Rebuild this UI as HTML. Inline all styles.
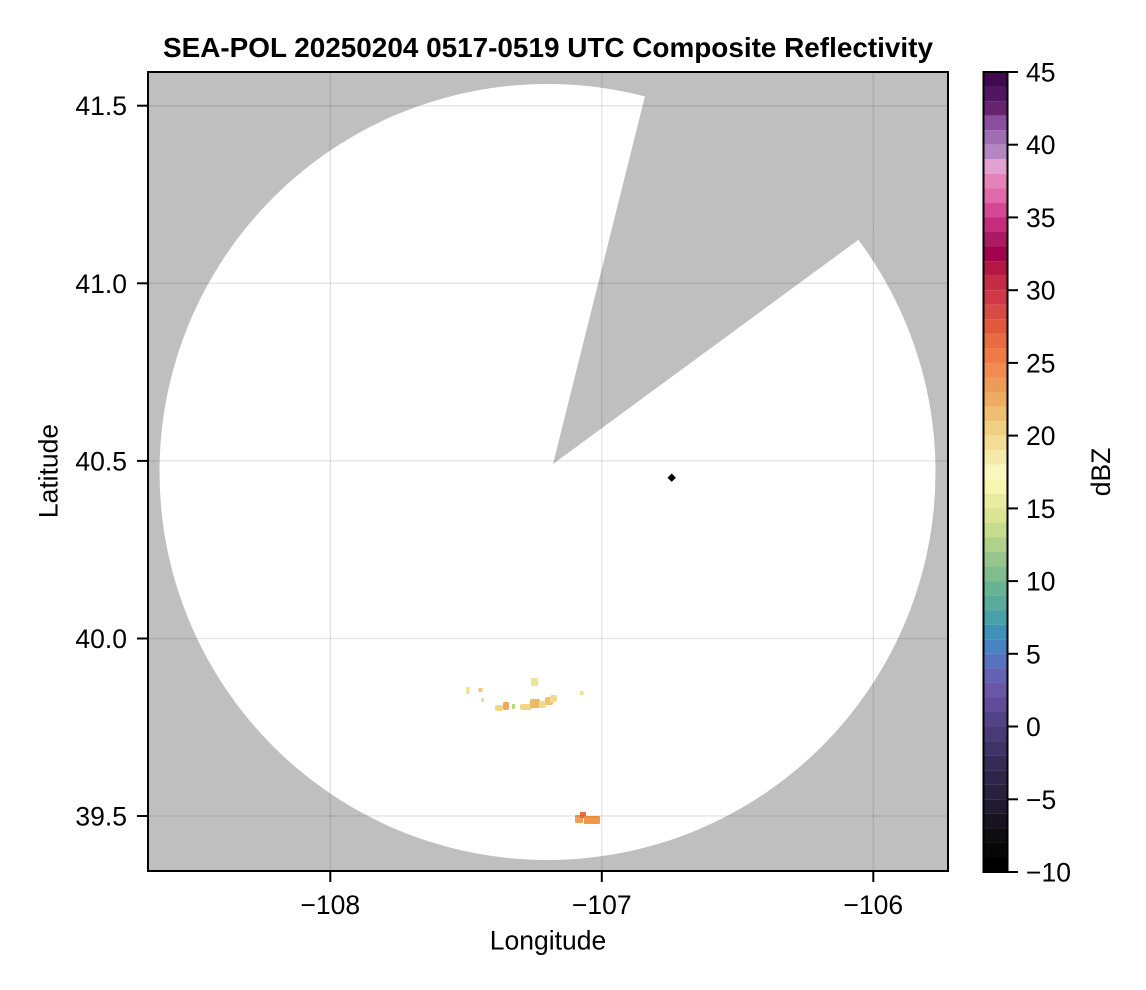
<!DOCTYPE html>
<html><head><meta charset="utf-8"><style>
html,body{margin:0;padding:0;background:#fff;}
svg{display:block;font-family:"Liberation Sans",Arial,sans-serif;}
</style></head><body>
<svg width="1146" height="990" viewBox="0 0 1146 990" xmlns="http://www.w3.org/2000/svg">
<defs><clipPath id="pa"><rect x="148" y="72" width="800" height="799"/></clipPath></defs>
<rect width="1146" height="990" fill="#fff"/>
<text x="548" y="57" font-size="27.9" font-weight="bold" text-anchor="middle">SEA-POL 20250204 0517-0519 UTC Composite Reflectivity</text>
<g clip-path="url(#pa)">
<rect x="148" y="72" width="800" height="799" fill="#bfbfbf"/>
<ellipse cx="547.5" cy="472" rx="388" ry="388" fill="#fff"/>
<polygon points="553,464 651,72 948,72 948,174" fill="#bfbfbf"/>
<g>
<rect x="466" y="687" width="3.5" height="7" fill="#eee38e"/>
<rect x="478.5" y="688" width="4" height="4" fill="#f0c870"/>
<rect x="481" y="698" width="3" height="4" fill="#e6e59a"/>
<rect x="495" y="705" width="8" height="6" rx="2" fill="#f0da86"/>
<rect x="503" y="702" width="6" height="8" rx="2" fill="#eea85a"/>
<rect x="512" y="704" width="3" height="5" fill="#b8d68a"/>
<rect x="520" y="704" width="12" height="6" rx="2" fill="#f2d585"/>
<rect x="530" y="699" width="10" height="9" rx="2" fill="#efb764"/>
<rect x="539" y="701" width="7" height="7" rx="2" fill="#f2dc8c"/>
<rect x="545" y="697" width="8" height="8" rx="2" fill="#f0c272"/>
<rect x="550" y="695" width="7" height="7" rx="2" fill="#f2dc8c"/>
<rect x="531" y="678" width="7" height="8" fill="#eae79a"/>
<rect x="580" y="691" width="3.5" height="4" fill="#f0e090"/>
<rect x="575" y="815" width="8" height="8" rx="1" fill="#f0a052"/>
<rect x="580" y="812" width="6" height="6" fill="#e9703c"/>
<rect x="584" y="816" width="16" height="8" rx="1" fill="#f09848"/>
</g>
<g stroke="#000" stroke-opacity="0.11" stroke-width="1.3">
<line x1="330.3" y1="72" x2="330.3" y2="871"/>
<line x1="601.8" y1="72" x2="601.8" y2="871"/>
<line x1="873.3" y1="72" x2="873.3" y2="871"/>
<line x1="148" y1="105.7" x2="948" y2="105.7"/>
<line x1="148" y1="283.3" x2="948" y2="283.3"/>
<line x1="148" y1="460.9" x2="948" y2="460.9"/>
<line x1="148" y1="638.5" x2="948" y2="638.5"/>
<line x1="148" y1="816" x2="948" y2="816"/>
</g>
<polygon points="671.7,473.5 675.9,477.7 671.7,481.9 667.5,477.7" fill="#000"/>
</g>
<rect x="148" y="72" width="800" height="799" fill="none" stroke="#000" stroke-width="2"/>
<g stroke="#000" stroke-width="2">
<line x1="330.3" y1="872" x2="330.3" y2="882"/>
<line x1="601.8" y1="872" x2="601.8" y2="882"/>
<line x1="873.3" y1="872" x2="873.3" y2="882"/>
<line x1="137" y1="105.7" x2="147" y2="105.7"/>
<line x1="137" y1="283.3" x2="147" y2="283.3"/>
<line x1="137" y1="460.9" x2="147" y2="460.9"/>
<line x1="137" y1="638.5" x2="147" y2="638.5"/>
<line x1="137" y1="816" x2="147" y2="816"/>
</g>
<g font-size="26.5" fill="#000">
<text x="330.3" y="914" text-anchor="middle">−108</text>
<text x="601.8" y="914" text-anchor="middle">−107</text>
<text x="873.3" y="914" text-anchor="middle">−106</text>
<text x="127" y="115.2" text-anchor="end">41.5</text>
<text x="127" y="292.8" text-anchor="end">41.0</text>
<text x="127" y="470.4" text-anchor="end">40.5</text>
<text x="127" y="648" text-anchor="end">40.0</text>
<text x="127" y="825.5" text-anchor="end">39.5</text>
<text x="548" y="949.5" text-anchor="middle">Longitude</text>
<text transform="translate(57.5,471) rotate(-90)" text-anchor="middle">Latitude</text>
<text transform="translate(1110,472) rotate(-90)" text-anchor="middle">dBZ</text>
</g>
<g>
<rect x="983.5" y="72" width="24" height="14.6" fill="#3f0a4e"/>
<rect x="983.5" y="86.545" width="24" height="14.6" fill="#511562"/>
<rect x="983.5" y="101.09" width="24" height="14.6" fill="#672571"/>
<rect x="983.5" y="115.636" width="24" height="14.6" fill="#8b4e9e"/>
<rect x="983.5" y="130.18" width="24" height="14.6" fill="#a06db2"/>
<rect x="983.5" y="144.727" width="24" height="14.6" fill="#b287c2"/>
<rect x="983.5" y="159.27" width="24" height="14.6" fill="#e2a1d0"/>
<rect x="983.5" y="173.818" width="24" height="14.6" fill="#e383b7"/>
<rect x="983.5" y="188.36" width="24" height="14.6" fill="#e06aa9"/>
<rect x="983.5" y="202.909" width="24" height="14.6" fill="#d54894"/>
<rect x="983.5" y="217.45" width="24" height="14.6" fill="#c62c7b"/>
<rect x="983.5" y="232" width="24" height="14.6" fill="#ac1a63"/>
<rect x="983.5" y="246.545" width="24" height="14.6" fill="#a1024b"/>
<rect x="983.5" y="261.09" width="24" height="14.6" fill="#b61645"/>
<rect x="983.5" y="275.636" width="24" height="14.6" fill="#c62b44"/>
<rect x="983.5" y="290.18" width="24" height="14.6" fill="#cf3947"/>
<rect x="983.5" y="304.727" width="24" height="14.6" fill="#da4a45"/>
<rect x="983.5" y="319.27" width="24" height="14.6" fill="#e3573c"/>
<rect x="983.5" y="333.818" width="24" height="14.6" fill="#e96b42"/>
<rect x="983.5" y="348.36" width="24" height="14.6" fill="#ee7b46"/>
<rect x="983.5" y="362.909" width="24" height="14.6" fill="#f08c51"/>
<rect x="983.5" y="377.45" width="24" height="14.6" fill="#ec9c58"/>
<rect x="983.5" y="392" width="24" height="14.6" fill="#edac62"/>
<rect x="983.5" y="406.545" width="24" height="14.6" fill="#f0be71"/>
<rect x="983.5" y="421.09" width="24" height="14.6" fill="#efcf80"/>
<rect x="983.5" y="435.636" width="24" height="14.6" fill="#f3dc93"/>
<rect x="983.5" y="450.18" width="24" height="14.6" fill="#f6eaab"/>
<rect x="983.5" y="464.727" width="24" height="14.6" fill="#fbf8bf"/>
<rect x="983.5" y="479.27" width="24" height="14.6" fill="#f8f5b0"/>
<rect x="983.5" y="493.818" width="24" height="14.6" fill="#e8eca0"/>
<rect x="983.5" y="508.36" width="24" height="14.6" fill="#dae493"/>
<rect x="983.5" y="522.909" width="24" height="14.6" fill="#c6db8b"/>
<rect x="983.5" y="537.45" width="24" height="14.6" fill="#aed28a"/>
<rect x="983.5" y="552" width="24" height="14.6" fill="#96c68b"/>
<rect x="983.5" y="566.545" width="24" height="14.6" fill="#80bd8e"/>
<rect x="983.5" y="581.09" width="24" height="14.6" fill="#69b395"/>
<rect x="983.5" y="595.636" width="24" height="14.6" fill="#58ab9a"/>
<rect x="983.5" y="610.18" width="24" height="14.6" fill="#48a1a6"/>
<rect x="983.5" y="624.727" width="24" height="14.6" fill="#3f91b8"/>
<rect x="983.5" y="639.27" width="24" height="14.6" fill="#4882c3"/>
<rect x="983.5" y="653.818" width="24" height="14.6" fill="#5873bd"/>
<rect x="983.5" y="668.36" width="24" height="14.6" fill="#6662b3"/>
<rect x="983.5" y="682.909" width="24" height="14.6" fill="#6a56a6"/>
<rect x="983.5" y="697.45" width="24" height="14.6" fill="#5f4b97"/>
<rect x="983.5" y="712" width="24" height="14.6" fill="#524286"/>
<rect x="983.5" y="726.545" width="24" height="14.6" fill="#493a76"/>
<rect x="983.5" y="741.09" width="24" height="14.6" fill="#3f3266"/>
<rect x="983.5" y="755.636" width="24" height="14.6" fill="#352b57"/>
<rect x="983.5" y="770.18" width="24" height="14.6" fill="#2e2549"/>
<rect x="983.5" y="784.727" width="24" height="14.6" fill="#28203c"/>
<rect x="983.5" y="799.27" width="24" height="14.6" fill="#1f1a2f"/>
<rect x="983.5" y="813.818" width="24" height="14.6" fill="#171420"/>
<rect x="983.5" y="828.36" width="24" height="14.6" fill="#0e0d12"/>
<rect x="983.5" y="842.909" width="24" height="14.6" fill="#070708"/>
<rect x="983.5" y="857.45" width="24" height="14.55" fill="#000000"/>
</g>
<rect x="983.5" y="72" width="24" height="800" fill="none" stroke="#000" stroke-width="2"/>
<g stroke="#000" stroke-width="2">
<line x1="1008" y1="72" x2="1018" y2="72"/>
<line x1="1008" y1="144.7" x2="1018" y2="144.7"/>
<line x1="1008" y1="217.4" x2="1018" y2="217.4"/>
<line x1="1008" y1="290.2" x2="1018" y2="290.2"/>
<line x1="1008" y1="362.9" x2="1018" y2="362.9"/>
<line x1="1008" y1="435.6" x2="1018" y2="435.6"/>
<line x1="1008" y1="508.4" x2="1018" y2="508.4"/>
<line x1="1008" y1="581.1" x2="1018" y2="581.1"/>
<line x1="1008" y1="653.8" x2="1018" y2="653.8"/>
<line x1="1008" y1="726.5" x2="1018" y2="726.5"/>
<line x1="1008" y1="799.3" x2="1018" y2="799.3"/>
<line x1="1008" y1="872" x2="1018" y2="872"/>
</g>
<g font-size="26.5" fill="#000">
<text x="1026" y="81.5">45</text>
<text x="1026" y="154.2">40</text>
<text x="1026" y="226.9">35</text>
<text x="1026" y="299.7">30</text>
<text x="1026" y="372.4">25</text>
<text x="1026" y="445.1">20</text>
<text x="1026" y="517.9">15</text>
<text x="1026" y="590.6">10</text>
<text x="1026" y="663.3">5</text>
<text x="1026" y="736">0</text>
<text x="1026" y="808.8">−5</text>
<text x="1026" y="881.5">−10</text>
</g>
</svg>
</body></html>
